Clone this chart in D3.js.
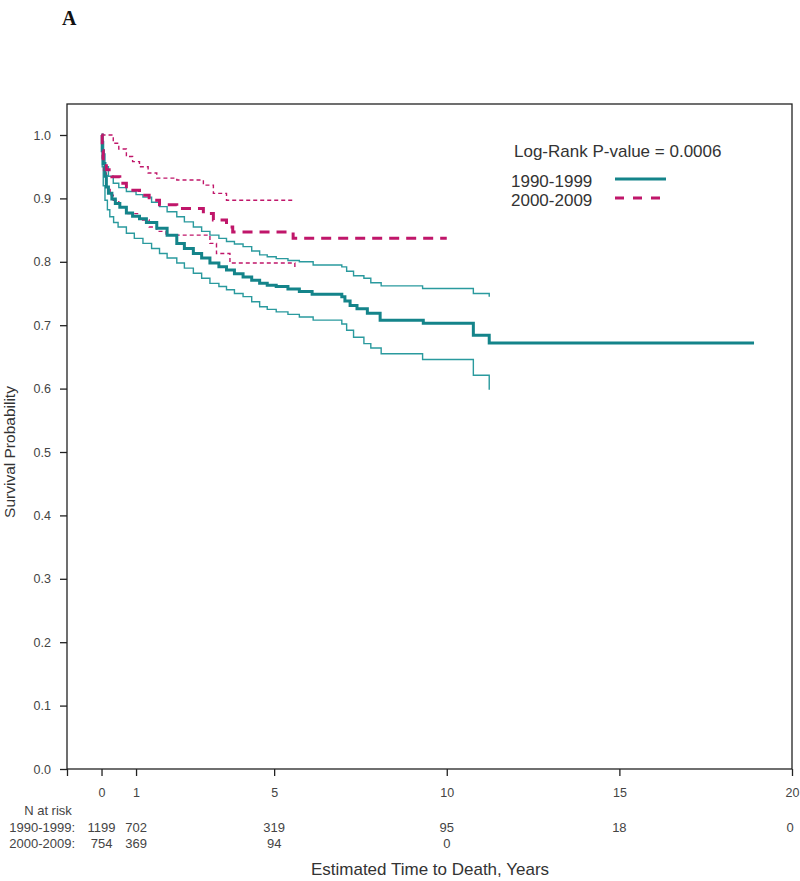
<!DOCTYPE html>
<html>
<head>
<meta charset="utf-8">
<script src="https://cdn.jsdelivr.net/npm/d3@7"></script>
<style>
  body { margin: 0; background: #fff; }
  svg { display: block; font-family: "Liberation Sans", Arial, sans-serif; }
</style>
</head>
<body>
<svg id="chart" width="800" height="881"></svg>
<script>
// ---------- DATA ----------
const groups = ["1990-1999", "2000-2009"];
const xTicks = [0, 1, 5, 10, 15, 20];
const yTicks = [0, 0.1, 0.2, 0.3, 0.4, 0.5, 0.6, 0.7, 0.8, 0.9, 1.0];
const riskTimes1 = [0, 1, 5, 10, 15, 20];
const riskCounts1 = [1199, 702, 319, 95, 18, 0];
const riskTimes2 = [0, 1, 5, 10];
const riskCounts2 = [754, 369, 94, 0];
const pValueText = "Log-Rank P-value = 0.0006";

// [time (years), survival]
const surv1990 = [[0,1.0],[0.02,0.975],[0.05,0.955],[0.1,0.935],[0.14,0.918],[0.2,0.908],[0.3,0.899],[0.4,0.892],[0.53,0.886],[0.72,0.877],[0.9,0.872],[1.1,0.868],[1.3,0.862],[1.6,0.853],[1.9,0.842],[2.18,0.829],[2.4,0.821],[2.66,0.813],[2.9,0.806],[3.14,0.798],[3.4,0.792],[3.62,0.787],[3.85,0.781],[4.1,0.776],[4.35,0.771],[4.58,0.766],[4.8,0.763],[5.06,0.761],[5.4,0.757],[5.73,0.753],[6.1,0.749],[6.96,0.745],[7.05,0.738],[7.2,0.731],[7.4,0.726],[7.7,0.719],[8.07,0.708],[9.32,0.703],[10.77,0.684],[11.23,0.672],[18.9,0.672]];
const upper1990 = [[0,1.0],[0.03,0.99],[0.06,0.97],[0.1,0.95],[0.2,0.935],[0.34,0.924],[0.5,0.917],[0.72,0.911],[1.0,0.906],[1.2,0.902],[1.45,0.894],[1.68,0.887],[1.9,0.879],[2.18,0.871],[2.4,0.863],[2.66,0.855],[2.9,0.848],[3.14,0.842],[3.4,0.837],[3.62,0.832],[3.85,0.828],[4.1,0.824],[4.35,0.817],[4.58,0.811],[4.8,0.808],[5.06,0.805],[5.4,0.802],[5.73,0.800],[6.13,0.795],[6.96,0.792],[7.1,0.785],[7.3,0.778],[7.6,0.774],[7.8,0.767],[8.1,0.762],[9.3,0.758],[10.77,0.750],[11.23,0.745]];
const lower1990 = [[0,0.99],[0.02,0.95],[0.05,0.92],[0.1,0.897],[0.17,0.882],[0.24,0.871],[0.35,0.862],[0.48,0.855],[0.72,0.845],[0.95,0.837],[1.2,0.829],[1.45,0.821],[1.68,0.813],[1.9,0.806],[2.18,0.798],[2.4,0.79],[2.66,0.782],[2.9,0.774],[3.14,0.766],[3.4,0.761],[3.62,0.756],[3.85,0.750],[4.1,0.745],[4.35,0.737],[4.58,0.729],[4.8,0.725],[5.06,0.721],[5.4,0.717],[5.73,0.713],[6.13,0.708],[6.96,0.702],[7.1,0.692],[7.3,0.681],[7.6,0.671],[7.8,0.664],[8.1,0.655],[9.3,0.646],[10.77,0.621],[11.23,0.598]];
const surv2000 = [[0,1.0],[0.02,0.975],[0.05,0.955],[0.14,0.945],[0.3,0.934],[0.53,0.924],[0.72,0.913],[1.1,0.905],[1.38,0.897],[1.68,0.89],[2.18,0.884],[2.95,0.876],[3.24,0.866],[3.62,0.855],[3.8,0.847],[5.55,0.837],[10.0,0.837]];
const upper2000 = [[0,1.0],[0.34,0.987],[0.5,0.978],[0.72,0.966],[0.9,0.958],[1.1,0.950],[1.35,0.94],[1.6,0.932],[2.18,0.929],[2.95,0.921],[3.24,0.908],[3.62,0.897],[5.6,0.897]];
const lower2000 = [[0,0.99],[0.02,0.96],[0.06,0.94],[0.14,0.918],[0.25,0.905],[0.34,0.897],[0.5,0.886],[0.72,0.876],[1.1,0.866],[1.38,0.855],[1.6,0.848],[1.87,0.842],[3.14,0.829],[3.33,0.813],[3.72,0.798],[5.6,0.787]];

// ---------- LAYOUT ----------
const teal = "#14848a", tealLight = "#2a9a9e", magenta = "#c0166a", textCol = "#333";
const svg = d3.select("#chart");
const plotL = 67, plotR = 792, plotT = 104, plotB = 769;
const x = d3.scaleLinear().domain([-1, 20]).range([plotL, plotR]);
const y = d3.scaleLinear().domain([0, 1]).range([plotB, 135]);

// Panel label
svg.append("text").attr("x", 62).attr("y", 25)
  .attr("font-family", "Liberation Serif, Times New Roman, serif")
  .attr("font-weight", "bold").attr("font-size", 20).attr("fill", "#111").text("A");

// Box
svg.append("rect").attr("x", plotL).attr("y", plotT).attr("width", plotR - plotL).attr("height", plotB - plotT)
  .attr("fill", "none").attr("stroke", "#222").attr("stroke-width", 1.3);

// Y axis
const yAxis = svg.append("g").attr("transform", `translate(${plotL},0)`)
  .call(d3.axisLeft(y).tickValues(yTicks).tickFormat(d3.format(".1f")).tickSize(7).tickPadding(9));
yAxis.select(".domain").remove();
yAxis.selectAll("line").attr("stroke", "#222").attr("stroke-width", 1.3);
yAxis.selectAll("text").attr("font-size", 12.5).attr("fill", "#444").attr("font-family", "Liberation Sans, Arial, sans-serif");

// X axis
const xAxis = svg.append("g").attr("transform", `translate(0,${plotB})`)
  .call(d3.axisBottom(x).tickValues([-1].concat(xTicks)).tickFormat(d => d < 0 ? "" : d).tickSize(7).tickPadding(12));
xAxis.select(".domain").remove();
xAxis.selectAll("line").attr("stroke", "#222").attr("stroke-width", 1.3);
xAxis.selectAll("text").attr("font-size", 12.5).attr("fill", "#444").attr("font-family", "Liberation Sans, Arial, sans-serif");

// Axis titles
svg.append("text").attr("transform", `translate(15,${(135 + plotB) / 2}) rotate(-90)`)
  .attr("text-anchor", "middle").attr("font-size", 15.5).attr("fill", textCol).text("Survival Probability");
svg.append("text").attr("x", 430).attr("y", 875).attr("text-anchor", "middle")
  .attr("font-size", 17).attr("fill", textCol).text("Estimated Time to Death, Years");

// Curves
const line = d3.line().x(d => x(d[0])).y(d => y(d[1])).curve(d3.curveStepAfter);
const curves = [
  { data: lower1990, color: tealLight, w: 1.4, dash: null },
  { data: upper1990, color: tealLight, w: 1.4, dash: null },
  { data: lower2000, color: magenta, w: 1.4, dash: "4,3" },
  { data: upper2000, color: magenta, w: 1.4, dash: "4,3" },
  { data: surv1990, color: teal, w: 3, dash: null },
  { data: surv2000, color: magenta, w: 3, dash: "10,7" }
];
svg.append("g").selectAll("path").data(curves).join("path")
  .attr("d", d => line(d.data)).attr("fill", "none")
  .attr("stroke", d => d.color).attr("stroke-width", d => d.w)
  .attr("stroke-dasharray", d => d.dash);

// Legend
svg.append("text").attr("x", 514).attr("y", 157).attr("font-size", 17).attr("fill", textCol).text(pValueText);
const legendItems = [
  { label: groups[0], color: teal, dash: null, ty: 187, ly: 179 },
  { label: groups[1], color: magenta, dash: "9,9", ty: 206, ly: 198 }
];
legendItems.forEach(it => {
  svg.append("text").attr("x", 511).attr("y", it.ty).attr("font-size", 17).attr("fill", textCol).text(it.label);
  svg.append("line").attr("x1", 615).attr("x2", 666).attr("y1", it.ly).attr("y2", it.ly)
    .attr("stroke", it.color).attr("stroke-width", 3).attr("stroke-dasharray", it.dash);
});

// N at risk table
svg.append("text").attr("x", 48).attr("y", 815).attr("text-anchor", "middle")
  .attr("font-size", 13).attr("fill", "#444").text("N at risk");
[[groups[0], riskTimes1, riskCounts1, 832], [groups[1], riskTimes2, riskCounts2, 848]].forEach(([g, ts, cs, yy]) => {
  svg.append("text").attr("x", 75).attr("y", yy).attr("text-anchor", "end")
    .attr("font-size", 13).attr("fill", "#444").text(g + ":");
  ts.forEach((t, i) => {
    svg.append("text").attr("x", x(t) + (t === 20 ? -2 : 0)).attr("y", yy).attr("text-anchor", "middle")
      .attr("font-size", 13).attr("fill", "#444").text(cs[i]);
  });
});
</script>
</body>
</html>
